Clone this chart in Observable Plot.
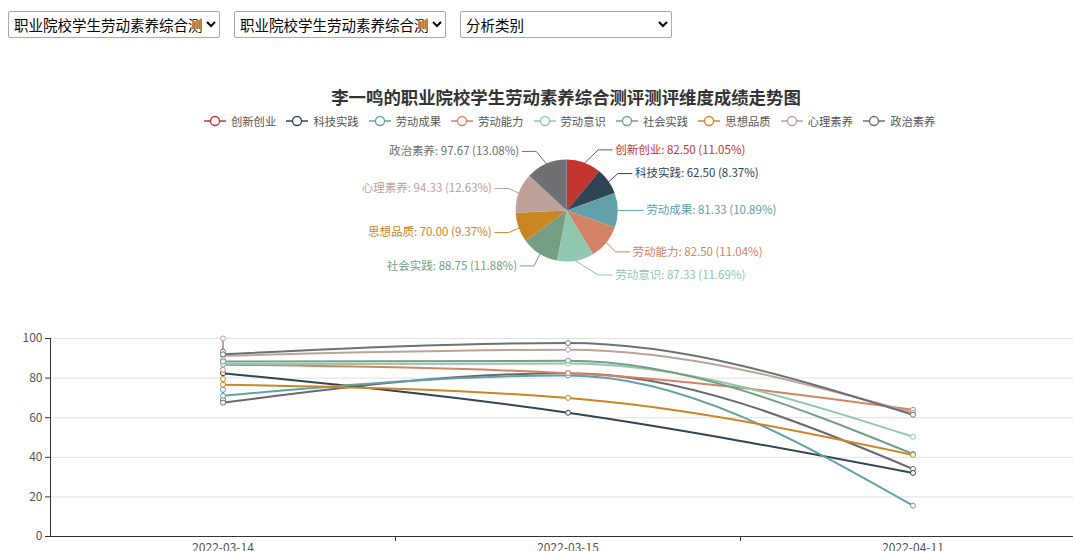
<!DOCTYPE html>
<html>
<head>
<meta charset="utf-8">
<script src="https://cdn.jsdelivr.net/npm/d3@7"></script>
<script src="https://cdn.jsdelivr.net/npm/@observablehq/plot@0.6"></script>
<style>
  html, body { margin: 0; padding: 0; }
  body { width: 1073px; height: 551px; overflow: hidden; position: relative; background: #fff;
         font-family: "Noto Sans CJK SC", "Noto Sans", sans-serif; }
  select { position: absolute; top: 11px; height: 27px; width: 212px; font-size: 14.5px;
           font-family: "Noto Sans CJK SC", sans-serif; border: 1px solid #a9a9a9; border-radius: 2px;
           background: #fff; color: #000; padding: 0 1px; }
  #title { position: absolute; top: 84px; left: 0; width: 1132px; text-align: center; font-size: 17.4px;
           font-weight: bold; color: #333; line-height: 26px; white-space: nowrap; }
  #legend { position: absolute; top: 112px; left: 204px; display: flex; align-items: center; }
  .item { display: flex; align-items: center; margin-right: 10.2px; font-size: 11.3px; color: #555; line-height: 18px; }
  .item svg { margin-right: 5px; }
  #pie { position: absolute; top: 130px; left: 0; }
  #line { position: absolute; top: 320px; left: 0; }
</style>
</head>
<body>
<div id="selects"></div>
<div id="title"></div>
<div id="legend"></div>
<div id="pie"></div>
<div id="line"></div>
<script>
// ---------- data ----------
const selectLabels = ["职业院校学生劳动素养综合测评", "职业院校学生劳动素养综合测评", "分析类别"];
const chartTitle = "李一鸣的职业院校学生劳动素养综合测评测评维度成绩走势图";
const names = ["创新创业", "科技实践", "劳动成果", "劳动能力", "劳动意识", "社会实践", "思想品质", "心理素养", "政治素养"];
const colors = ["#c23531", "#2f4554", "#61a0a8", "#d48265", "#91c7ae", "#749f83", "#ca8622", "#bda29a", "#6e7074"];
const lineColors = ["#6b6770", "#2f4554", "#61a0a8", "#d48265", "#91c7ae", "#749f83", "#ca8622", "#bda29a", "#6e7074"];
const pieValues = [82.50, 62.50, 81.33, 82.50, 87.33, 88.75, 70.00, 94.33, 97.67];
const dates = ["2022-03-14", "2022-03-15", "2022-04-11"];
// several records on the first date for some dimensions
const day1Scores = [[69.1, 67.6], [82.5], [74.1, 71.1], [84.2, 86.8], [89.4, 87.1], [88.4], [79.5, 76.7], [100, 91.3], [93.4, 92.0]];
const day2Scores = [82.50, 62.50, 81.33, 82.50, 87.33, 88.75, 70.00, 94.33, 97.67];
const day3Scores = [34.1, 32.1, 15.6, 64.0, 50.4, 41.7, 41.2, 62.5, 61.5];
const yTicks = [0, 20, 40, 60, 80, 100];

const FONT = '"Noto Sans CJK SC", "Noto Sans", sans-serif';

// ---------- selects ----------
const selLefts = [8, 234, 460];
selectLabels.forEach((t, i) => {
  const s = document.createElement("select");
  s.style.left = selLefts[i] + "px";
  const o = document.createElement("option"); o.textContent = t; s.appendChild(o);
  document.getElementById("selects").appendChild(s);
});

// ---------- title & legend ----------
document.getElementById("title").textContent = chartTitle;
const legend = d3.select("#legend");
names.forEach((n, i) => {
  const it = legend.append("div").attr("class", "item");
  const svg = it.append("svg").attr("width", 22).attr("height", 14);
  svg.append("line").attr("x1", 0).attr("x2", 22).attr("y1", 7).attr("y2", 7).attr("stroke", colors[i]).attr("stroke-width", 1.5);
  svg.append("circle").attr("cx", 11).attr("cy", 7).attr("r", 4.5).attr("fill", "#fff").attr("stroke", colors[i]).attr("stroke-width", 1.3);
  it.append("span").text(n);
});

// ---------- pie ----------
function percents(vals, prec) {
  const sum = d3.sum(vals), digits = Math.pow(10, prec);
  const raw = vals.map(v => v / sum * 100 * digits);
  const fl = raw.map(Math.floor);
  const rem = raw.map((v, i) => v - fl[i]);
  let left = 100 * digits - d3.sum(fl);
  while (left > 0) {
    let mi = 0, mv = -1;
    rem.forEach((r, i) => { if (r > mv + 1e-9) { mv = r; mi = i; } });
    fl[mi]++; rem[mi] = -1; left--;
  }
  return fl.map(f => f / digits);
}
const pcts = percents(pieValues, 2);
const pieData = names.map((n, i) => ({name: n, value: pieValues[i], color: colors[i], pct: pcts[i]}));
const PW = 1073, PH = 165, cx = 566.7, cy = 80.5, R = 51, RX = 62, RY = 65, MINB = 31, L2 = 14, GAP = 3;
const arcs = d3.pie().sort(null).value(d => d.value)(pieData);
const labels = arcs.map(a => {
  const m = (a.startAngle + a.endAngle) / 2, s = Math.sin(m), c = Math.cos(m);
  const dir = s >= 0 ? 1 : -1;
  const bdx = Math.max(Math.abs(RX * s), MINB);
  const by = cy - RY * c;
  return {
    name: a.data.name, color: a.data.color, dir,
    pts: [[cx + R * s, cy - R * c], [cx + dir * bdx, by], [cx + dir * (bdx + L2), by]],
    tx: cx + dir * (bdx + L2 + GAP), ty: by,
    label: `${a.data.name}: ${a.data.value.toFixed(2)} (${a.data.pct.toFixed(2)}%)`
  };
});
const leader = labels.flatMap(l => l.pts.map(p => ({name: l.name, color: l.color, x: p[0], y: p[1]})));
const arcGen = d3.arc().innerRadius(0).outerRadius(R);
const piePlot = Plot.plot({
  width: PW, height: PH, margin: 0,
  x: {type: "identity"}, y: {type: "identity"}, color: {type: "identity"},
  style: {fontFamily: FONT, fontSize: "11.5px", background: "transparent"},
  marks: [
    () => {
      const g = d3.create("svg:g").attr("transform", `translate(${cx},${cy})`);
      g.selectAll("path").data(arcs).join("path").attr("d", arcGen).attr("fill", d => d.data.color);
      return g.node();
    },
    Plot.line(leader, {x: "x", y: "y", z: "name", stroke: "color", strokeWidth: 1}),
    Plot.text(labels.filter(l => l.dir > 0), {x: "tx", y: "ty", text: "label", fill: "color", textAnchor: "start"}),
    Plot.text(labels.filter(l => l.dir < 0), {x: "tx", y: "ty", text: "label", fill: "color", textAnchor: "end"})
  ]
});
document.getElementById("pie").appendChild(piePlot);

// ---------- line chart ----------
const mainRows = names.flatMap((n, i) => [
  {name: n, xi: 0, v: day1Scores[i][day1Scores[i].length - 1]},
  {name: n, xi: 1, v: day2Scores[i]},
  {name: n, xi: 2, v: day3Scores[i]}
]);
const firstRows = names.flatMap((n, i) => day1Scores[i].map(v => ({name: n, xi: 0, v})));
const dotRows = [
  ...firstRows,
  ...names.map((n, i) => ({name: n, xi: 1, v: day2Scores[i]})),
  ...names.map((n, i) => ({name: n, xi: 2, v: day3Scores[i]}))
];
const allFirst = firstRows.map(d => d.v);
const lo = d3.min(allFirst), hi = d3.max(allFirst);
const boundaries = [0.5, 1.5];

const linePlot = Plot.plot({
  width: 1073, height: 231, marginLeft: 50, marginRight: 0, marginTop: 18, marginBottom: 15,
  x: {domain: [-0.5, 2.5], range: [50, 1085]},
  y: {domain: [0, 100]},
  color: {domain: names, range: lineColors},
  style: {fontFamily: FONT, fontSize: "12px", color: "#555", background: "transparent", overflow: "hidden"},
  marks: [
    Plot.ruleY(yTicks.filter(t => t > 0), {stroke: "#e0e0e0", strokeWidth: 1}),
    Plot.axisY({ticks: yTicks, tickSize: 5, tickPadding: 3, tickFormat: d => String(d), label: null, stroke: "#333"}),
    Plot.ruleX([-0.5], {stroke: "#333", strokeWidth: 1}),
    Plot.ruleY([0], {stroke: "#333", strokeWidth: 1}),
    Plot.axisX({ticks: [0, 1, 2], tickSize: 0, tickPadding: 7, tickFormat: i => dates[i], label: null}),
    Plot.ruleX(boundaries, {x: d => d, y1: () => 0, y2: () => 0, insetBottom: -5, stroke: "#333"}),
    Plot.ruleX([0], {y1: () => lo, y2: () => hi, stroke: "#8d8a8e", strokeWidth: 1.5}),
    Plot.line(firstRows, {x: "xi", y: "v", z: "name", stroke: "name", strokeWidth: 2}),
    Plot.line(mainRows, {x: "xi", y: "v", z: "name", stroke: "name", strokeWidth: 2, curve: "monotone-x"}),
    Plot.dot(dotRows, {x: "xi", y: "v", stroke: "name", fill: "#fff", r: 2.5, strokeWidth: 1})
  ]
});
document.getElementById("line").appendChild(linePlot);
</script>
</body>
</html>
